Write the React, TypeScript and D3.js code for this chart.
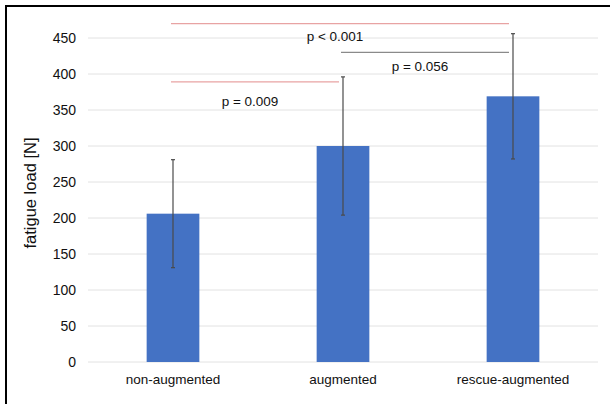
import * as d3 from "d3";

const categories = ["non-augmented", "augmented", "rescue-augmented"];
const meanLoad = [206, 300, 369];
const sdLoad = [75, 96, 87];
const yTicks = [0, 50, 100, 150, 200, 250, 300, 350, 400, 450];

// significance brackets: from/to category, bracket level and label level in N
const brackets = [
  { from: 0, to: 2, level: 470, labelLevel: 452, label: "p < 0.001", significant: true },
  { from: 1, to: 2, level: 430, labelLevel: 411, label: "p = 0.056", significant: false },
  { from: 0, to: 1, level: 389, labelLevel: 362, label: "p = 0.009", significant: true },
];

const width = 610;
const height = 404;
const margin = { top: 38, right: 12, bottom: 42, left: 88 };
const font = "Liberation Sans, Arial, Helvetica, sans-serif";

export default function App() {
  const x = d3
    .scaleBand<string>()
    .domain(categories)
    .range([margin.left, width - margin.right])
    .paddingInner(0.69)
    .paddingOuter(0.345);

  const y = d3
    .scaleLinear()
    .domain([0, 450])
    .range([height - margin.bottom, margin.top]);

  const bw = x.bandwidth();
  const cx = (i: number) => (x(categories[i]) || 0) + bw / 2;

  return (
    <svg
      width={width}
      height={height}
      style={{ position: "absolute", left: 0, top: 0, background: "#fff" }}
    >
      {/* frame (left and top edges only) */}
      <line x1={6} x2={6} y1={6} y2={height} stroke="#000" strokeWidth={2} />
      <line x1={5} x2={width} y1={6} y2={6} stroke="#000" strokeWidth={2} />

      {/* gridlines */}
      {yTicks.map((t) => (
        <line
          key={t}
          x1={margin.left}
          x2={width - margin.right}
          y1={y(t)}
          y2={y(t)}
          stroke="#e2e2e2"
          strokeWidth={1}
        />
      ))}

      {/* y tick labels */}
      {yTicks.map((t) => (
        <text
          key={t}
          x={76}
          y={y(t)}
          dy="0.35em"
          textAnchor="end"
          fontFamily={font}
          fontSize={14}
          fill="#111"
        >
          {t}
        </text>
      ))}

      <text
        transform={`translate(36,${(margin.top + height - margin.bottom) / 2 - 7}) rotate(-90)`}
        textAnchor="middle"
        fontFamily={font}
        fontSize={16.5}
        fill="#111"
      >
        fatigue load [N]
      </text>

      {/* bars */}
      {categories.map((c, i) => (
        <rect
          key={c}
          x={x(c)}
          y={y(meanLoad[i])}
          width={bw}
          height={y(0) - y(meanLoad[i])}
          fill="#4472c4"
        />
      ))}

      {/* error bars */}
      {categories.map((c, i) => {
        const top = y(meanLoad[i] + sdLoad[i]);
        const bot = y(meanLoad[i] - sdLoad[i]);
        return (
          <g key={c} stroke="#4a4a4a" strokeWidth={1.2}>
            <line x1={cx(i)} x2={cx(i)} y1={top} y2={bot} />
            <line x1={cx(i) - 2} x2={cx(i) + 2} y1={top} y2={top} />
            <line x1={cx(i) - 2} x2={cx(i) + 2} y1={bot} y2={bot} />
          </g>
        );
      })}

      {/* category labels */}
      {categories.map((c, i) => (
        <text
          key={c}
          x={cx(i)}
          y={383.5}
          textAnchor="middle"
          fontFamily={font}
          fontSize={13.5}
          fill="#111"
        >
          {c}
        </text>
      ))}

      {/* significance brackets */}
      {brackets.map((b) => (
        <g key={b.label}>
          <line
            x1={cx(b.from) - 2}
            x2={cx(b.to) - 4}
            y1={y(b.level)}
            y2={y(b.level)}
            stroke={b.significant ? "#e8a3a3" : "#8a8a8a"}
            strokeWidth={1.4}
          />
          <text
            x={(cx(b.from) + cx(b.to)) / 2 - 8}
            y={y(b.labelLevel)}
            dy="0.35em"
            textAnchor="middle"
            fontFamily={font}
            fontSize={13.5}
            fill="#111"
          >
            {b.label}
          </text>
        </g>
      ))}
    </svg>
  );
}
